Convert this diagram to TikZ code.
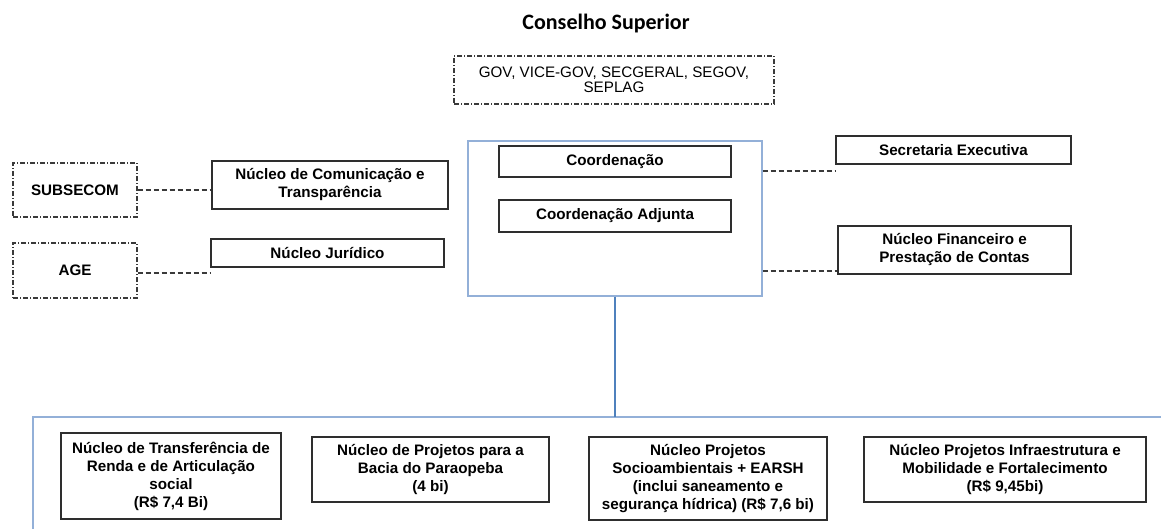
\documentclass[tikz,border=0pt]{standalone}
\usepackage{fontspec}
\setmainfont{Liberation Sans}
\newfontfamily\titlefont{Carlito}
\definecolor{boxline}{HTML}{2E2E2E}
\definecolor{frameline}{HTML}{93B0D8}
\definecolor{linkblue}{HTML}{4F81BD}
\definecolor{dashline}{HTML}{3A3A3A}
\begin{document}
\begin{tikzpicture}[x=1pt,y=-1pt,
  unit/.style={draw=boxline, line width=1.4pt, inner sep=0pt, align=center,
    font=\fontsize{15.2}{18}\selectfont\bfseries, text=black},
  outside/.style={draw=dashline, line width=1.1pt,
    dash pattern=on 5pt off 2pt on 1pt off 2pt, inner sep=0pt, align=center},
  frame/.style={draw=frameline, line width=1.3pt, inner sep=0pt},
  dashlink/.style={draw=dashline, line width=1.1pt, dash pattern=on 5pt off 3pt},
  bluelink/.style={draw=linkblue, line width=1.3pt}]
\useasboundingbox (0,0) rectangle (1161,529);

% Title and superior council
\node (title) at (606,24) {\titlefont\fontsize{22}{24}\selectfont\bfseries Conselho Superior};
\node[outside, minimum width=320pt, minimum height=48pt,
      font=\fontsize{15.2}{15}\selectfont] (gov) at (614,80)
  {GOV, VICE-GOV, SECGERAL, SEGOV,\\SEPLAG};

% Coordination frame
\node[frame, minimum width=294pt, minimum height=155pt] (frm) at (615,218.5) {};
\node[unit, minimum width=232pt, minimum height=31pt] (coord) at (615,161.5) {Coordenação};
\node[unit, minimum width=232pt, minimum height=32pt] (adj) at (615,216) {Coordenação Adjunta};

% Left side
\node[outside, minimum width=124pt, minimum height=54pt,
      font=\fontsize{15.2}{18}\selectfont\bfseries] (sub) at (75,190) {SUBSECOM};
\node[outside, minimum width=124pt, minimum height=55pt,
      font=\fontsize{15.2}{18}\selectfont\bfseries] (age) at (75,270.5) {AGE};
\node[unit, minimum width=236pt, minimum height=48pt] (com) at (330,185)
  {Núcleo de Comunicação e\\Transparência};
\node[unit, minimum width=233pt, minimum height=28pt] (jur) at (327.5,253) {Núcleo Jurídico};

% Right side
\node[unit, minimum width=235pt, minimum height=28pt] (sec) at (953.5,150) {Secretaria Executiva};
\node[unit, minimum width=233pt, minimum height=48pt] (fin) at (954.5,250)
  {Núcleo Financeiro e\\Prestação de Contas};

% Dashed links
\draw[dashlink] (sub.east) -- (sub.east -| com.west);
\draw[dashlink] ([yshift=-2.5pt]age.east) -- ([yshift=-2.5pt]age.east -| jur.west);
\coordinate (fr1) at (frm.east |- 0,171);
\coordinate (fr2) at (frm.east |- 0,271);
\draw[dashlink] (fr1) -- (fr1 -| sec.west);
\draw[dashlink] (fr2) -- (fr2 -| fin.west);

% Lower frame holding the project units
\coordinate (ltop) at (33,417);
\draw[frame] (1161,417) -- (ltop) -- (33,529);
\coordinate (join) at (frm.south |- ltop);
\draw[bluelink] (frm.south) -- (join);

% Project units
\node[unit, minimum width=220pt, minimum height=86pt] (b1) at (171,476)
  {Núcleo de Transferência de\\Renda e de Articulação\\social\\(R\$ 7,4 Bi)};
\node[unit, minimum width=237pt, minimum height=65pt] (b2) at (430.5,469.5)
  {Núcleo de Projetos para a\\Bacia do Paraopeba\\(4 bi)};
\node[unit, minimum width=238pt, minimum height=83pt] (b3) at (708,478.5)
  {Núcleo Projetos\\Socioambientais + EARSH\\(inclui saneamento e\\segurança hídrica) (R\$ 7,6 bi)};
\node[unit, minimum width=282pt, minimum height=65pt] (b4) at (1005,469.5)
  {Núcleo Projetos Infraestrutura e\\Mobilidade e Fortalecimento\\(R\$ 9,45bi)};
\end{tikzpicture}
\end{document}
